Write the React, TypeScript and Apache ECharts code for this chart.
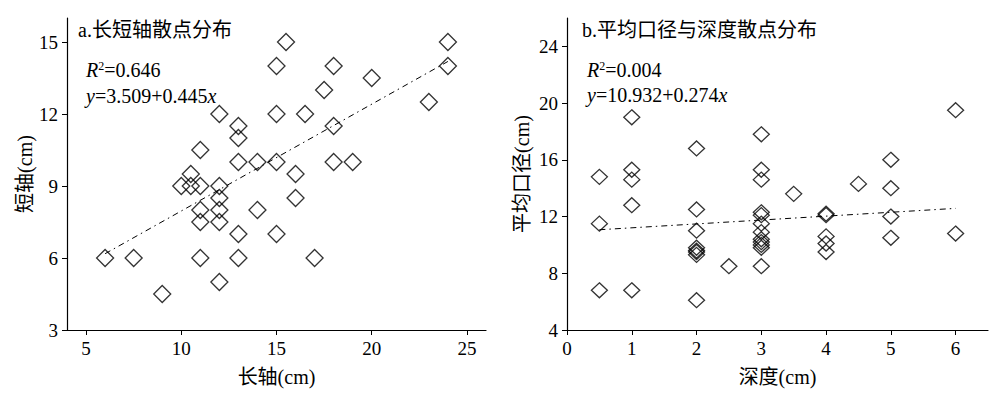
import React, { useEffect, useRef } from "react";
import * as echarts from "echarts";

// ---- Data: chart a (长轴 vs 短轴) ----
const aLong = [15.5, 24, 15, 18, 24, 20, 17.5, 23, 12, 15, 16.5, 18, 13, 13, 11, 13, 14, 15, 18, 19, 16, 10.5, 16, 10, 10.5, 11, 12, 12, 11, 12, 14, 11, 12, 13, 15, 6, 7.5, 11, 13, 17, 9, 12];
const aShort = [15, 15, 14, 14, 14, 13.5, 13, 12.5, 12, 12, 12, 11.5, 11.5, 11, 10.5, 10, 10, 10, 10, 10, 9.5, 9.5, 8.5, 9, 9, 9, 9, 8.5, 8, 8, 8, 7.5, 7.5, 7, 7, 6, 6, 6, 6, 6, 4.5, 5];
const aTrend = { intercept: 3.509, slope: 0.445, from: 6, to: 24 };
const aXTicks = [5, 10, 15, 20, 25];
const aYTicks = [3, 6, 9, 12, 15];

// ---- Data: chart b (深度 vs 平均口径) ----
const bDepth = [0.5, 0.5, 0.5, 1, 1, 1, 1, 1, 2, 2, 2, 2, 2, 2, 2, 2, 2.5, 3, 3, 3, 3, 3, 3, 3, 3, 3, 3, 3, 3, 3.5, 4, 4, 4, 4, 4, 4.5, 5, 5, 5, 5, 6, 6];
const bDiam = [14.8, 11.5, 6.8, 19, 15.3, 14.6, 12.8, 6.8, 16.8, 12.5, 11, 9.8, 9.6, 9.5, 9.3, 6.1, 8.5, 17.8, 15.3, 14.6, 12.3, 12.1, 11.5, 10.9, 10.4, 10.2, 10.0, 9.8, 8.5, 13.6, 12.2, 12.1, 10.6, 10.1, 9.5, 14.3, 16, 14, 12, 10.5, 19.5, 10.8];
const bTrend = { intercept: 10.932, slope: 0.274, from: 0.5, to: 6 };
const bXTicks = [0, 1, 2, 3, 4, 5, 6];
const bYTicks = [4, 8, 12, 16, 20, 24];

const FONT = "'Liberation Serif', 'Times New Roman', 'Noto Sans CJK SC', serif";

function trendPts(t: { intercept: number; slope: number; from: number; to: number }) {
  return [t.from, t.to].map((x) => [x, t.intercept + t.slope * x]);
}

function axisCommon(ticks: number[]) {
  return {
    axisLine: { show: true, onZero: false, lineStyle: { color: "#000", width: 1.2 } },
    axisTick: { show: true, length: 5, inside: false, customValues: ticks, lineStyle: { color: "#000", width: 1 } },
    axisLabel: { customValues: ticks, color: "#000", fontFamily: FONT, fontSize: 19, margin: 9 },
    splitLine: { show: false },
    nameLocation: "middle",
    nameTextStyle: { color: "#000", fontFamily: FONT, fontSize: 20 },
  };
}

const scatterStyle = (size: number[]) => ({
  type: "scatter",
  symbol: "diamond",
  symbolSize: size,
  itemStyle: { color: "rgba(0,0,0,0)", borderColor: "#000", borderWidth: 1.3 },
  emphasis: { disabled: true },
});

const lineStyle = {
  type: "line",
  symbol: "none",
  lineStyle: { color: "#000", width: 1, type: [6, 4, 1.5, 4] },
  emphasis: { disabled: true },
};

export default function App() {
  const ref = useRef<HTMLDivElement>(null);
  useEffect(() => {
    const chart = echarts.init(ref.current!, null, { renderer: "svg" });
    const mkText = (x: number, y: number, rich: boolean, text: string) => ({
      type: "text",
      x,
      y,
      style: {
        text,
        fill: "#000",
        font: `20px ${FONT}`,
        verticalAlign: "middle",
        rich: rich
          ? {
              i: { fontStyle: "italic", fontSize: 20, fontFamily: FONT },
              sup: { fontSize: 12, fontFamily: FONT, verticalAlign: "top", padding: [0, 0, 9, 0] },
              n: { fontSize: 20, fontFamily: FONT },
            }
          : undefined,
      },
    });
    chart.setOption({
      animation: false,
      grid: [
        { left: 67, right: 517, top: 18, bottom: 69 },
        { left: 567, right: 15, top: 18, bottom: 69 },
      ],
      xAxis: [
        { ...axisCommon(aXTicks), gridIndex: 0, type: "value", min: 4, max: 26, name: "长轴(cm)", nameGap: 37 },
        { ...axisCommon(bXTicks), gridIndex: 1, type: "value", min: 0, max: 6.5, name: "深度(cm)", nameGap: 37 },
      ],
      yAxis: [
        { ...axisCommon(aYTicks), gridIndex: 0, type: "value", min: 3, max: 16, name: "短轴(cm)", nameGap: 30 },
        { ...axisCommon(bYTicks), gridIndex: 1, type: "value", min: 4, max: 26, name: "平均口径(cm)", nameGap: 35 },
      ],
      series: [
        { ...scatterStyle([17, 17]), xAxisIndex: 0, yAxisIndex: 0, data: aLong.map((x, i) => [x, aShort[i]]) },
        { ...lineStyle, xAxisIndex: 0, yAxisIndex: 0, data: trendPts(aTrend) },
        { ...scatterStyle([16, 15]), xAxisIndex: 1, yAxisIndex: 1, data: bDepth.map((x, i) => [x, bDiam[i]]) },
        { ...lineStyle, xAxisIndex: 1, yAxisIndex: 1, data: trendPts(bTrend) },
      ],
      graphic: [
        mkText(78, 30, false, "a.长短轴散点分布"),
        mkText(86, 70, true, "{i|R}{sup|2}{n|=0.646}"),
        mkText(86, 96, true, "{i|y}{n|=3.509+0.445}{i|x}"),
        mkText(582, 30, false, "b.平均口径与深度散点分布"),
        mkText(587, 70, true, "{i|R}{sup|2}{n|=0.004}"),
        mkText(587, 95, true, "{i|y}{n|=10.932+0.274}{i|x}"),
      ],
    });
    return () => chart.dispose();
  }, []);
  return (
    <div
      ref={ref}
      style={{ position: "fixed", left: 0, top: 0, width: 1003, height: 399, background: "#fff" }}
    />
  );
}
